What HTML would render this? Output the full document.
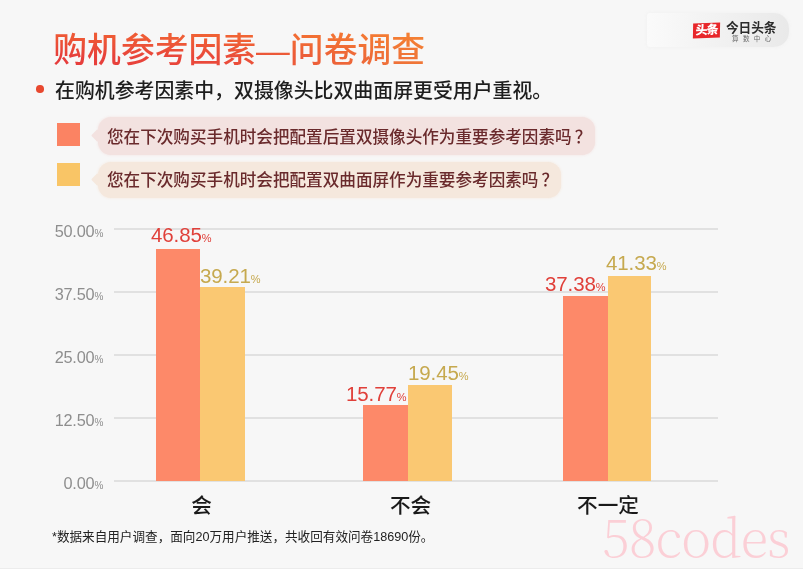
<!DOCTYPE html>
<html lang="zh-CN">
<head>
<meta charset="utf-8">
<title>购机参考因素—问卷调查</title>
<style>
html,body{margin:0;padding:0;}
html{background:#f7f7f7;}
body{width:803px;height:569px;overflow:hidden;position:relative;background:#f7f7f7;
  font-family:"Liberation Sans","Noto Sans CJK SC",sans-serif;}
#wrap{position:absolute;left:0;top:0;width:803px;height:569px;filter:blur(0.45px);}
.abs{position:absolute;white-space:nowrap;}
#title{left:53.3px;top:24.5px;font-size:33.8px;line-height:50px;font-weight:500;
  background:linear-gradient(180deg,rgba(255,150,40,.3) 25%,rgba(255,150,40,0) 65%),linear-gradient(90deg,#e63c3c 0%,#ea4a3a 45%,#f07838 100%);-webkit-background-clip:text;background-clip:text;color:#ea4a3a;-webkit-text-fill-color:transparent;}
#bullet{left:36.2px;top:85.2px;width:7.6px;height:7.6px;border-radius:50%;background:#e8482f;}
#sub{left:55px;top:76px;font-size:19.9px;line-height:30px;color:#1e1e1e;font-weight:500;}
.sq{width:22.6px;height:22.6px;left:57px;}
.bub{height:36px;border-radius:13px;font-size:16.6px;line-height:36px;color:#6a2a2c;padding-left:9px;box-sizing:border-box;font-weight:500;box-shadow:0 0 3px 0 currentColor;}
.bub span{position:relative;top:2px;}
.bub i{font-style:normal;position:relative;left:3px;}
.bub:before{content:"";position:absolute;left:-5px;top:13.5px;width:9px;height:9px;background:inherit;transform:rotate(45deg);border-radius:1px;}
.grid{left:113.5px;width:604.5px;height:2px;background:#e1e1e1;}
.yl{left:39px;width:64px;text-align:right;font-size:16.3px;letter-spacing:-0.2px;line-height:20px;color:#8e8e8e;}
.yl small{font-size:10px;letter-spacing:-0.3px;}
.vl small{font-size:11px;letter-spacing:-0.3px;}
.bar{position:absolute;}
.o{background:#fd8969;}
.y{background:#fac872;}
.vl{font-size:20.5px;line-height:24px;letter-spacing:-0.1px;}
.vo{color:#e0403a;}
.vy{color:#c6a94f;}
.cat{font-size:20.6px;line-height:26px;font-weight:500;color:#1a1a1a;text-align:center;width:100px;}
#foot{left:52px;top:527px;font-size:12.6px;line-height:20px;color:#222;}
#wm{left:602px;top:497.5px;font-family:"Noto Serif CJK SC","Liberation Serif",serif;font-weight:200;font-size:51px;line-height:74px;color:#fbcfd6;letter-spacing:-1px;}
#logobg{left:647px;top:13px;width:142px;height:34px;border-radius:3px 15px 15px 3px;background:linear-gradient(90deg,rgba(250,250,250,0.9) 0%,#f4f4f4 35%,#e9e9e9 100%);box-shadow:0 0 4px rgba(240,240,240,1);}
#logored{left:693.4px;top:22.8px;width:27px;height:15.4px;background:#e8262a;transform:rotate(-2deg) skewX(-3deg);color:#fff;font-weight:900;font-size:12px;line-height:15.4px;text-align:center;letter-spacing:-1px;}
#logored span{display:inline-block;transform:rotate(0deg);}
#logotxt{left:726px;top:18px;font-size:12.7px;line-height:20px;font-weight:700;color:#2b2b2b;letter-spacing:-0.1px;}
#logosub{left:732px;top:34px;font-size:6.5px;line-height:10px;color:#6a6a6a;letter-spacing:4.4px;}
#strip{left:0;top:567.6px;width:803px;height:2px;background:#ececec;}
</style>
</head>
<body>
<div id="wrap">
<div class="abs" id="title">购机参考因素—问卷调查</div>

<!-- logo -->
<div class="abs" id="logobg"></div>
<div class="abs" id="logored"><span>头条</span></div>
<div class="abs" id="logotxt">今日头条</div>
<div class="abs" id="logosub">算数中心</div>
<div class="abs" id="bullet"></div>
<div class="abs" id="sub">在购机参考因素中，双摄像头比双曲面屏更受用户重视。</div>

<div class="abs sq" style="top:123.4px;background:#fb8363"></div>
<div class="abs bub" style="left:98px;top:117px;width:497px;height:37.5px;line-height:37.5px;background:#f3e2e0;color:#f3e2e0"><span style="color:#6a2a2c">您在下次购买手机时会把配置后置双摄像头作为重要参考因素吗<i>？</i></span></div>
<div class="abs sq" style="top:163.4px;background:#f9c566"></div>
<div class="abs bub" style="left:98px;top:161.8px;width:463px;background:#f5e8dd;color:#f5e8dd"><span style="color:#6a2a2c;top:1.5px">您在下次购买手机时会把配置双曲面屏作为重要参考因素吗<i>？</i></span></div>

<!-- grid -->
<div class="abs grid" style="top:228px"></div>
<div class="abs grid" style="top:291px"></div>
<div class="abs grid" style="top:354px"></div>
<div class="abs grid" style="top:417px"></div>
<div class="abs grid" style="top:480px"></div>
<div class="abs yl" style="top:221px">50.00<small>%</small></div>
<div class="abs yl" style="top:284px">37.50<small>%</small></div>
<div class="abs yl" style="top:347px">25.00<small>%</small></div>
<div class="abs yl" style="top:410px">12.50<small>%</small></div>
<div class="abs yl" style="top:473px">0.00<small>%</small></div>

<!-- bars -->
<div class="bar o" style="left:155.8px;width:44.3px;top:248.5px;height:232.8px"></div>
<div class="bar y" style="left:200.1px;width:44.8px;top:287px;height:194.3px"></div>
<div class="bar o" style="left:363.2px;width:44.6px;top:404.7px;height:76.6px"></div>
<div class="bar y" style="left:407.8px;width:44.3px;top:385.2px;height:96.1px"></div>
<div class="bar o" style="left:563px;width:44.6px;top:296.3px;height:185px"></div>
<div class="bar y" style="left:607.5px;width:43.2px;top:276.4px;height:204.9px"></div>

<!-- value labels -->
<div class="abs vl vo" style="left:151px;top:223px">46.85<small>%</small></div>
<div class="abs vl vy" style="left:200px;top:264px">39.21<small>%</small></div>
<div class="abs vl vo" style="left:346px;top:382px">15.77<small>%</small></div>
<div class="abs vl vy" style="left:408px;top:361px">19.45<small>%</small></div>
<div class="abs vl vo" style="left:545px;top:272px">37.38<small>%</small></div>
<div class="abs vl vy" style="left:606px;top:251px">41.33<small>%</small></div>

<!-- categories -->
<div class="abs cat" style="left:151.5px;top:493px">会</div>
<div class="abs cat" style="left:360.5px;top:493px">不会</div>
<div class="abs cat" style="left:558px;top:493px">不一定</div>

<div class="abs" id="foot">*数据来自用户调查，面向20万用户推送，共收回有效问卷18690份。</div>
<div class="abs" id="wm">58codes</div>
<div class="abs" id="strip"></div>
</div>
</body>
</html>
